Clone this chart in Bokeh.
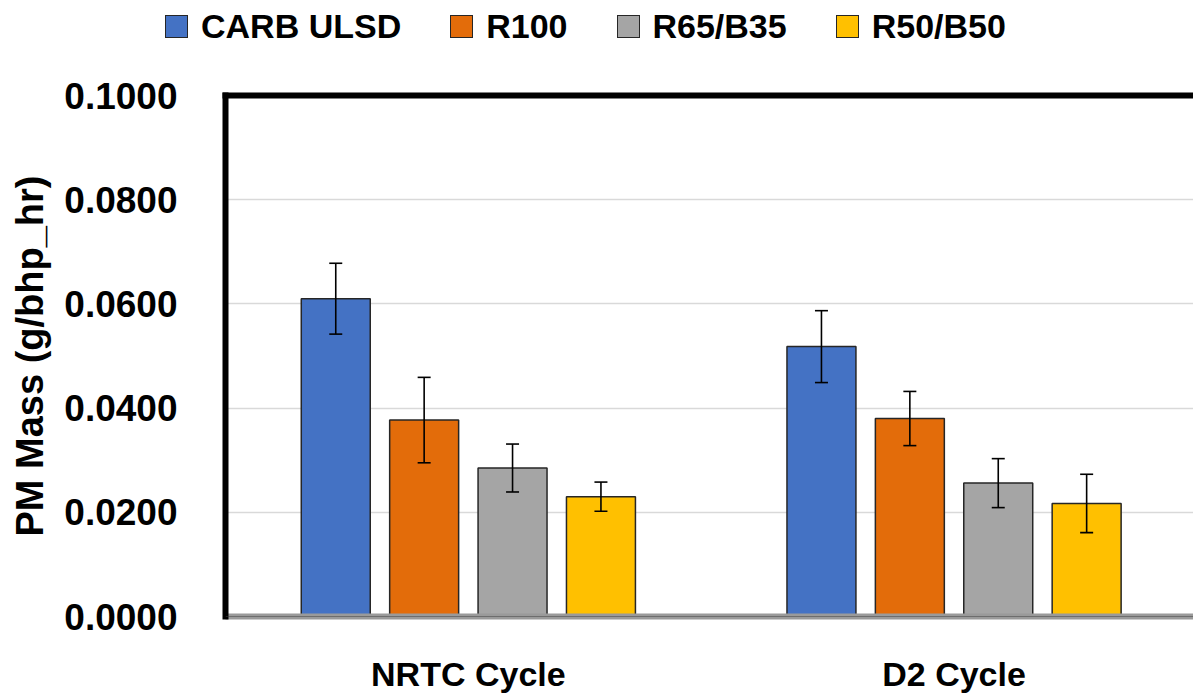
from bokeh.plotting import figure
from bokeh.layouts import column
from bokeh.models import (Range1d, FixedTicker, LinearAxis, Div,
                          ColumnDataSource, Whisker, TeeHead, PrintfTickFormatter, Span)
from bokeh.embed import file_html
from bokeh.resources import INLINE

# ---- data ----
cycles = ["NRTC Cycle", "D2 Cycle"]
fuels = ["CARB ULSD", "R100", "R65/B35", "R50/B50"]
carb_ulsd = [0.0610, 0.0518]
carb_ulsd_err = [0.0068, 0.0069]
r100 = [0.0377, 0.0380]
r100_err = [0.0082, 0.0052]
r65_b35 = [0.0285, 0.0256]
r65_b35_err = [0.0046, 0.0047]
r50_b50 = [0.0230, 0.0217]
r50_b50_err = [0.0028, 0.0056]
y_ticks = [0.0, 0.02, 0.04, 0.06, 0.08, 0.10]

series = [carb_ulsd, r100, r65_b35, r50_b50]
errors = [carb_ulsd_err, r100_err, r65_b35_err, r50_b50_err]
colors = ["#4472C4", "#E36C0A", "#A5A5A5", "#FFC000"]
offsets = [-0.273, -0.091, 0.091, 0.273]
bar_w = 0.142

FONT = "Liberation Sans"
LEG_H = 60

# ---------- legend strip (HTML) ----------
parts = []
for col, name in zip(colors, fuels):
    parts.append(
        f'<span style="display:inline-block;flex:none;width:23px;height:23px;box-sizing:border-box;'
        f'border:1.5px solid #262626;background:{col};margin-right:13px;"></span>'
        f'<span style="flex:none;margin-right:49px;">{name}</span>')
legend_html = (
    f'<div style="display:flex;align-items:center;height:52px;padding-left:165px;'
    f"font-family:'{FONT}';font-weight:bold;font-size:34px;color:black;white-space:nowrap;\">"
    + "".join(parts) + '</div>')
legend_div = Div(text=legend_html, width=1193, height=LEG_H, margin=(0, 0, 0, 0))

# ---------- main chart ----------
p = figure(width=1193, height=695 - LEG_H, output_backend="svg", toolbar_location=None,
           x_range=Range1d(0, 1.993), y_range=Range1d(0, 0.1),
           min_border_left=225, min_border_right=0, min_border_top=95 - LEG_H,
           min_border_bottom=75, margin=(0, 0, 0, 0))
p.outline_line_color = None
p.background_fill_color = "white"
p.border_fill_color = "white"

centers = [i + 0.5 for i in range(len(cycles))]
for vals, errs, col, off in zip(series, errors, colors, offsets):
    xs = [c + off for c in centers]
    src = ColumnDataSource(dict(x=xs, top=vals,
                                upper=[v + e for v, e in zip(vals, errs)],
                                lower=[v - e for v, e in zip(vals, errs)]))
    p.vbar(x="x", top="top", width=bar_w, source=src, fill_color=col,
           line_color="#262626", line_width=1.5)
    w = Whisker(base="x", upper="upper", lower="lower", source=src,
                line_color="black", line_width=1.6, level="overlay",
                upper_head=TeeHead(size=13, line_color="black", line_width=1.6),
                lower_head=TeeHead(size=13, line_color="black", line_width=1.6))
    p.add_layout(w)

# y axis
p.yaxis.ticker = FixedTicker(ticks=y_ticks)
p.yaxis.formatter = PrintfTickFormatter(format="%.4f")
p.yaxis.major_label_text_font = FONT
p.yaxis.major_label_text_font_style = "bold"
p.yaxis.major_label_text_font_size = "37px"
p.yaxis.major_label_text_color = "black"
p.yaxis.major_label_standoff = 42
p.yaxis.major_tick_line_color = None
p.yaxis.minor_tick_line_color = None
p.yaxis.axis_line_color = "black"
p.yaxis.axis_line_width = 6
p.yaxis.axis_line_cap = "square"
p.yaxis.axis_label = "PM Mass (g/bhp_hr)"
p.yaxis.axis_label_text_font = FONT
p.yaxis.axis_label_text_font_style = "bold"
p.yaxis.axis_label_text_font_size = "38px"
p.yaxis.axis_label_text_color = "black"
p.yaxis.axis_label_standoff = 10

# x axis
p.xaxis.ticker = FixedTicker(ticks=centers)
p.xaxis.major_label_overrides = {c: name for c, name in zip(centers, cycles)}
p.xaxis.major_label_text_font = FONT
p.xaxis.major_label_text_font_style = "bold"
p.xaxis.major_label_text_font_size = "34px"
p.xaxis.major_label_text_color = "black"
p.xaxis.major_label_standoff = 32
p.xaxis.major_tick_line_color = None
p.xaxis.minor_tick_line_color = None
p.xaxis.axis_line_color = "#9a9a9a"
p.xaxis.axis_line_width = 6

p.add_layout(Span(location=0, dimension="width", line_color="#404040", line_width=1))

# grid
p.xgrid.grid_line_color = None
p.ygrid.grid_line_color = "#d9d9d9"
p.ygrid.grid_line_width = 1.5

# top border
top_axis = LinearAxis(ticker=FixedTicker(ticks=[]), major_label_text_font_size="0px",
                      axis_line_width=6, axis_line_color="black", axis_line_cap="square",
                      major_tick_line_color=None, minor_tick_line_color=None)
p.add_layout(top_axis, "above")

layout = column(legend_div, p, spacing=0)
open("out.html", "w").write(file_html(layout, INLINE))
